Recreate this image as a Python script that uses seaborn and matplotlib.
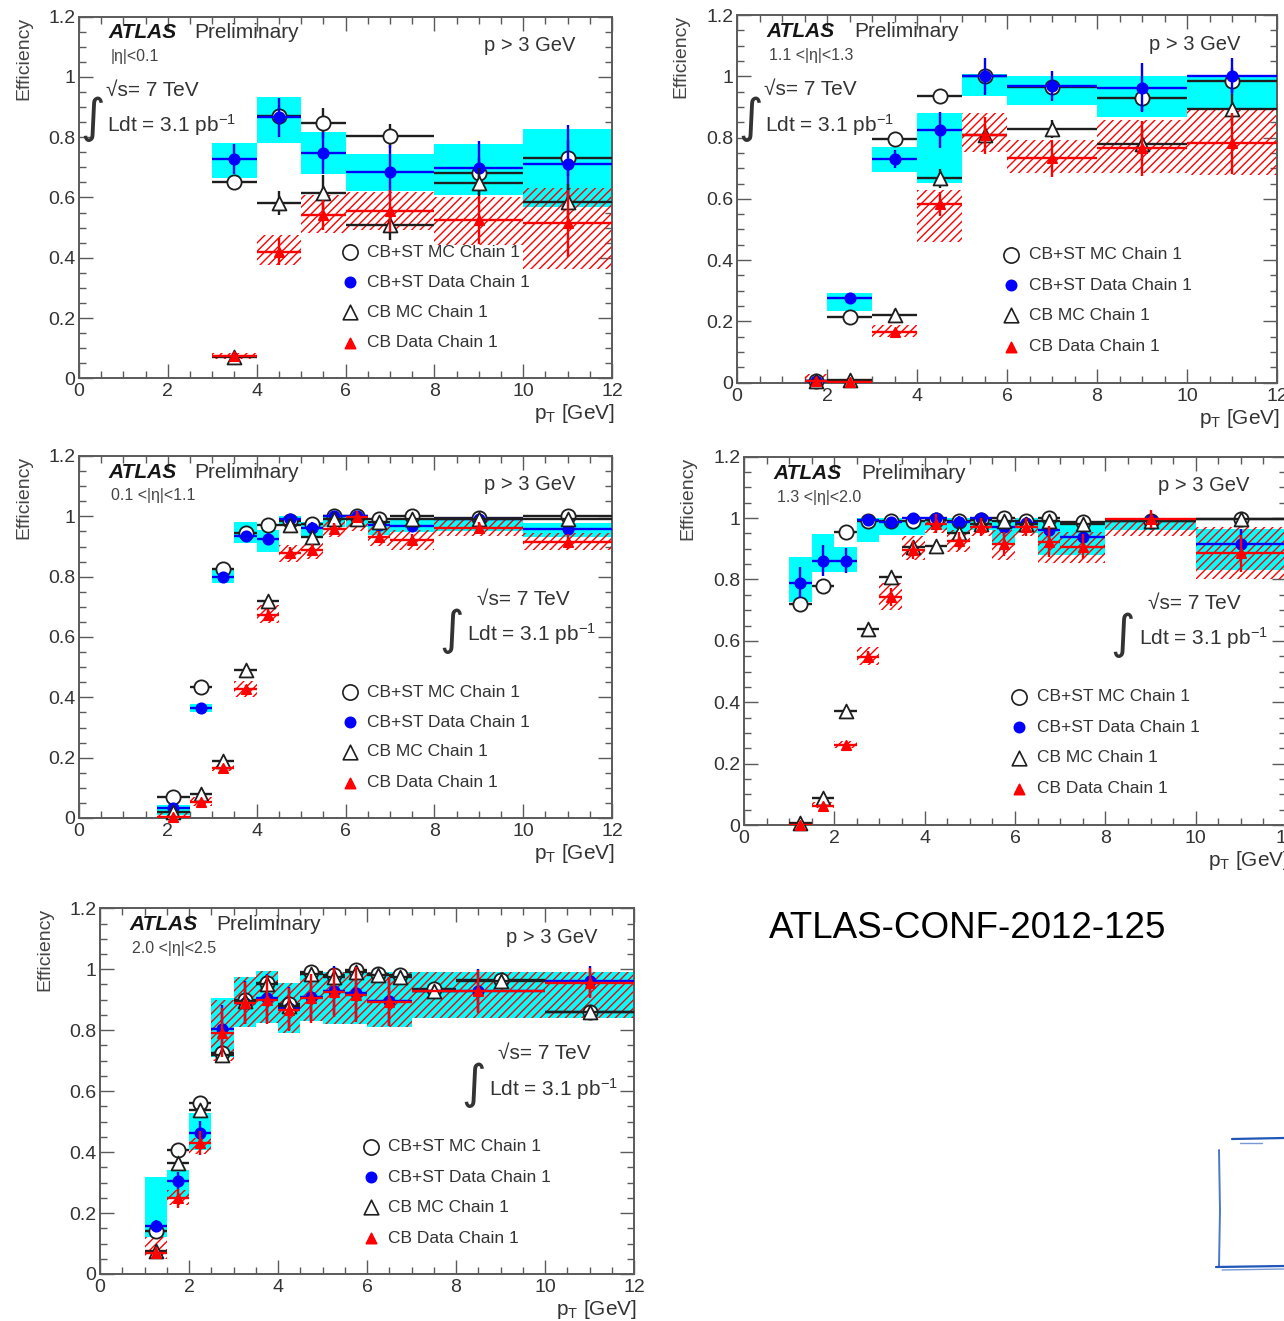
import numpy as np
import matplotlib
matplotlib.use("Agg")
import matplotlib.pyplot as plt
import seaborn as sns
from matplotlib.ticker import MultipleLocator, FuncFormatter
from matplotlib.lines import Line2D

# ---------------- data ----------------
# |eta| < 0.1
P1_EDGES = [3, 4, 5, 6, 8, 10, 12]
P1_MC_CBST = [0.653, 0.870, 0.846, 0.804, 0.682, 0.730]
P1_MC_CBST_ERR = [0.02, 0.03, 0.05, 0.04, 0.05, 0.06]
P1_DATA_CBST = [0.727, 0.866, 0.749, 0.685, 0.697, 0.710]
P1_DATA_CBST_ERR = [0.05, 0.065, 0.07, 0.09, 0.09, 0.13]
P1_SYS_CBST_LO = [0.664, 0.782, 0.678, 0.620, 0.608, 0.570]
P1_SYS_CBST_HI = [0.782, 0.935, 0.819, 0.744, 0.778, 0.826]
P1_MC_CB = [0.072, 0.583, 0.616, 0.509, 0.649, 0.586]
P1_MC_CB_ERR = [0.01, 0.04, 0.06, 0.05, 0.05, 0.06]
P1_DATA_CB = [0.074, 0.420, 0.542, 0.556, 0.525, 0.514]
P1_DATA_CB_ERR = [0.01, 0.045, 0.05, 0.07, 0.08, 0.11]
P1_SYS_CB_LO = [0.063, 0.376, 0.481, 0.492, 0.442, 0.362]
P1_SYS_CB_HI = [0.083, 0.476, 0.608, 0.619, 0.603, 0.630]

# 1.1 < |eta| < 1.3
P2_EDGES = [1.5, 2, 3, 4, 5, 6, 8, 10, 12]
P2_MC_CBST = [0.005, 0.215, 0.794, 0.936, 1.000, 0.965, 0.928, 0.986]
P2_MC_CBST_ERR = [0.005, 0.01, 0.02, 0.015, 0.02, 0.02, 0.04, 0.04]
P2_DATA_CBST = [0.005, 0.275, 0.730, 0.825, 1.000, 0.968, 0.962, 1.000]
P2_DATA_CBST_ERR = [0.01, 0.015, 0.03, 0.06, 0.06, 0.05, 0.08, 0.06]
P2_SYS_CBST_LO = [0.000, 0.235, 0.689, 0.653, 0.936, 0.906, 0.868, 0.895]
P2_SYS_CBST_HI = [0.010, 0.293, 0.768, 0.881, 1.007, 1.000, 1.000, 1.004]
P2_MC_CB = [0.005, 0.008, 0.220, 0.667, 0.810, 0.827, 0.779, 0.893]
P2_MC_CB_ERR = [0.005, 0.01, 0.02, 0.03, 0.03, 0.03, 0.05, 0.05]
P2_DATA_CB = [0.005, 0.003, 0.166, 0.583, 0.808, 0.732, 0.765, 0.781]
P2_DATA_CB_ERR = [0.01, 0.005, 0.01, 0.04, 0.06, 0.06, 0.09, 0.10]
P2_SYS_CB_LO = [0.000, 0.000, 0.150, 0.460, 0.754, 0.683, 0.683, 0.678]
P2_SYS_CB_HI = [0.030, 0.010, 0.188, 0.629, 0.881, 0.792, 0.857, 0.895]

# 0.1 < |eta| < 1.1
P3_EDGES = [1.75, 2.5, 3, 3.5, 4, 4.5, 5, 5.5, 6, 6.5, 7, 8, 10, 12]
P3_MC_CBST = [0.070, 0.433, 0.824, 0.945, 0.971, 0.985, 0.975, 1.000, 1.000, 0.990, 1.000, 0.995, 1.000]
P3_MC_CBST_ERR = [0.01, 0.01, 0.01, 0.01, 0.01, 0.01, 0.01, 0.01, 0.01, 0.01, 0.01, 0.01, 0.01]
P3_DATA_CBST = [0.033, 0.365, 0.800, 0.935, 0.924, 0.990, 0.960, 1.000, 1.000, 0.971, 0.968, 0.990, 0.957]
P3_DATA_CBST_ERR = [0.01, 0.01, 0.015, 0.015, 0.02, 0.015, 0.02, 0.01, 0.01, 0.015, 0.015, 0.01, 0.02]
P3_SYS_CBST_LO = [0.009, 0.352, 0.778, 0.910, 0.883, 0.968, 0.933, 0.963, 0.963, 0.938, 0.949, 0.950, 0.932]
P3_SYS_CBST_HI = [0.042, 0.379, 0.822, 0.982, 0.955, 1.000, 0.982, 0.999, 1.000, 0.982, 0.988, 0.990, 0.977]
P3_MC_CB = [0.020, 0.080, 0.190, 0.490, 0.720, 0.970, 0.930, 0.990, 0.990, 0.980, 0.990, 0.990, 0.990]
P3_MC_CB_ERR = [0.01, 0.01, 0.01, 0.015, 0.015, 0.01, 0.01, 0.01, 0.01, 0.01, 0.01, 0.01, 0.01]
P3_DATA_CB = [0.003, 0.053, 0.166, 0.426, 0.673, 0.877, 0.888, 0.957, 0.997, 0.933, 0.921, 0.960, 0.916]
P3_DATA_CB_ERR = [0.005, 0.01, 0.01, 0.015, 0.02, 0.02, 0.02, 0.02, 0.02, 0.02, 0.02, 0.02, 0.025]
P3_SYS_CB_LO = [0.000, 0.040, 0.155, 0.400, 0.645, 0.850, 0.860, 0.930, 0.950, 0.900, 0.890, 0.935, 0.890]
P3_SYS_CB_HI = [0.020, 0.070, 0.180, 0.455, 0.705, 0.905, 0.915, 0.985, 1.000, 0.970, 0.955, 0.990, 0.945]

# 1.3 < |eta| < 2.0
P4_EDGES = [1, 1.5, 2, 2.5, 3, 3.5, 4, 4.5, 5, 5.5, 6, 6.5, 7, 8, 10, 12]
P4_MC_CBST = [0.719, 0.780, 0.955, 0.990, 0.990, 0.990, 0.995, 0.990, 0.995, 1.000, 0.990, 1.000, 0.986, 0.990, 0.997]
P4_MC_CBST_ERR = [0.01, 0.01, 0.01, 0.01, 0.01, 0.01, 0.01, 0.01, 0.01, 0.01, 0.01, 0.01, 0.01, 0.01, 0.01]
P4_DATA_CBST = [0.789, 0.861, 0.861, 0.993, 0.988, 1.000, 0.999, 0.988, 0.999, 0.970, 0.983, 0.961, 0.939, 0.993, 0.915]
P4_DATA_CBST_ERR = [0.05, 0.05, 0.04, 0.02, 0.015, 0.015, 0.015, 0.02, 0.015, 0.03, 0.02, 0.03, 0.03, 0.015, 0.05]
P4_SYS_CBST_LO = [0.727, 0.825, 0.825, 0.923, 0.945, 0.945, 0.960, 0.950, 0.960, 0.920, 0.950, 0.880, 0.880, 0.960, 0.830]
P4_SYS_CBST_HI = [0.872, 0.948, 0.907, 1.000, 1.000, 0.990, 1.000, 1.000, 1.000, 0.990, 1.000, 0.990, 0.990, 0.995, 0.966]
P4_MC_CB = [0.005, 0.087, 0.372, 0.637, 0.807, 0.907, 0.910, 0.950, 0.980, 0.990, 0.980, 0.990, 0.980, 0.990, 0.997]
P4_MC_CB_ERR = [0.01, 0.01, 0.01, 0.01, 0.015, 0.015, 0.015, 0.01, 0.01, 0.01, 0.01, 0.01, 0.01, 0.01, 0.01]
P4_DATA_CB = [0.000, 0.063, 0.261, 0.548, 0.742, 0.896, 0.982, 0.926, 0.970, 0.915, 0.970, 0.923, 0.907, 0.997, 0.885]
P4_DATA_CB_ERR = [0.005, 0.01, 0.01, 0.02, 0.03, 0.03, 0.03, 0.03, 0.03, 0.04, 0.03, 0.05, 0.04, 0.03, 0.06]
P4_SYS_CB_LO = [0.000, 0.055, 0.250, 0.520, 0.700, 0.865, 0.950, 0.890, 0.940, 0.865, 0.940, 0.855, 0.855, 0.940, 0.800]
P4_SYS_CB_HI = [0.010, 0.075, 0.275, 0.580, 0.790, 0.940, 1.000, 0.960, 1.000, 0.960, 1.000, 0.955, 0.955, 1.000, 0.970]

# 2.0 < |eta| < 2.5 (data and simulation use different binning above 6 GeV)
P5_EDGES_DATA = [1, 1.5, 2, 2.5, 3, 3.5, 4, 4.5, 5, 5.5, 6, 7, 10, 12]
P5_EDGES_MC = [1, 1.5, 2, 2.5, 3, 3.5, 4, 4.5, 5, 5.5, 6, 6.5, 7, 8, 10, 12]
P5_MC_CBST = [0.140, 0.407, 0.560, 0.725, 0.900, 0.955, 0.885, 0.990, 0.980, 0.998, 0.985, 0.980, 0.935, 0.965, 0.860]
P5_MC_CBST_ERR = [0.01, 0.015, 0.015, 0.015, 0.015, 0.015, 0.015, 0.01, 0.01, 0.01, 0.01, 0.01, 0.015, 0.015, 0.02]
P5_DATA_CBST = [0.158, 0.306, 0.462, 0.803, 0.890, 0.905, 0.872, 0.910, 0.930, 0.922, 0.895, 0.930, 0.960]
P5_DATA_CBST_ERR = [0.02, 0.03, 0.04, 0.08, 0.07, 0.08, 0.07, 0.08, 0.08, 0.09, 0.08, 0.07, 0.05]
P5_SYS_CBST_LO = [0.122, 0.254, 0.407, 0.713, 0.812, 0.822, 0.790, 0.830, 0.820, 0.820, 0.810, 0.840, 0.840]
P5_SYS_CBST_HI = [0.319, 0.341, 0.527, 0.905, 0.976, 0.993, 0.954, 0.990, 0.990, 0.990, 0.990, 0.990, 0.990]
P5_MC_CB = [0.075, 0.363, 0.538, 0.720, 0.895, 0.950, 0.880, 0.985, 0.975, 0.990, 0.980, 0.975, 0.930, 0.960, 0.860]
P5_MC_CB_ERR = [0.01, 0.015, 0.015, 0.015, 0.015, 0.015, 0.015, 0.01, 0.01, 0.01, 0.01, 0.01, 0.015, 0.015, 0.02]
P5_DATA_CB = [0.068, 0.248, 0.430, 0.792, 0.889, 0.900, 0.867, 0.905, 0.924, 0.916, 0.894, 0.927, 0.955]
P5_DATA_CB_ERR = [0.02, 0.03, 0.04, 0.08, 0.07, 0.08, 0.07, 0.08, 0.08, 0.09, 0.08, 0.07, 0.05]
P5_SYS_CB_LO = [0.050, 0.227, 0.395, 0.700, 0.812, 0.822, 0.790, 0.830, 0.820, 0.820, 0.810, 0.840, 0.840]
P5_SYS_CB_HI = [0.122, 0.276, 0.445, 0.900, 0.976, 0.993, 0.954, 0.990, 0.990, 0.990, 0.990, 0.990, 0.990]

ETA_LABELS = ["|η|<0.1", "1.1 <|η|<1.3", "0.1 <|η|<1.1", "1.3 <|η|<2.0", "2.0 <|η|<2.5"]
LEGEND_LABELS = ["CB+ST MC Chain 1", "CB+ST Data Chain 1", "CB MC Chain 1", "CB Data Chain 1"]
X_TITLE = "p$_{\\mathregular{T}}$ [GeV]"
Y_TITLE = "Efficiency"
NOTE = "ATLAS-CONF-2012-125"

# ---------------- style ----------------
sns.set_theme(style="ticks")
plt.rcParams["font.family"] = ["Liberation Sans", "DejaVu Sans"]
plt.rcParams["mathtext.fontset"] = "custom"
plt.rcParams["mathtext.rm"] = "Liberation Sans"
plt.rcParams["mathtext.it"] = "Liberation Sans:italic"
plt.rcParams["mathtext.bf"] = "Liberation Sans:bold"
plt.rcParams["hatch.linewidth"] = 1.0

CYAN = "#00ffff"
BLUE = "#0000ff"
RED = "#ff0000"
MCCOL = "#1e1e1e"
FRAME = "#5a5a5a"
TXT = "#333333"


def centers(edges):
    e = np.asarray(edges, float)
    return (e[:-1] + e[1:]) / 2, (e[1:] - e[:-1]) / 2


def sys_boxes(ax, edges, lo, hi, hatched):
    e = np.asarray(edges, float)
    lo = np.asarray(lo, float)
    hi = np.asarray(hi, float)
    if hatched:
        ax.bar(e[:-1], hi - lo, width=np.diff(e), bottom=lo, align="edge",
               facecolor="none", edgecolor=RED, hatch="////", linewidth=0, zorder=2)
    else:
        ax.bar(e[:-1], hi - lo, width=np.diff(e), bottom=lo, align="edge",
               color=CYAN, linewidth=0, zorder=1)


def series(ax, edges, y, err, line_col, face, edge, marker, size, z):
    xc, hw = centers(edges)
    ax.errorbar(xc, y, xerr=hw, yerr=err, fmt="none", ecolor=line_col,
                elinewidth=1.7, capsize=0, zorder=z)
    sns.scatterplot(x=xc, y=np.asarray(y, float), ax=ax, marker=marker, s=size,
                    color=face, edgecolor=edge, linewidth=1.3, zorder=z + 0.5,
                    legend=False, clip_on=False)


def frame(ax):
    ax.set_xlim(0, 12)
    ax.set_ylim(0, 1.2)
    ax.set_xlabel("")
    ax.set_ylabel("")
    ax.xaxis.set_major_locator(MultipleLocator(2))
    ax.xaxis.set_minor_locator(MultipleLocator(0.5))
    ax.yaxis.set_major_locator(MultipleLocator(0.2))
    ax.yaxis.set_minor_locator(MultipleLocator(0.05))
    ax.yaxis.set_major_formatter(FuncFormatter(lambda v, p: "%g" % round(v, 3)))
    ax.xaxis.set_major_formatter(FuncFormatter(lambda v, p: "%g" % round(v, 3)))
    ax.tick_params(which="both", direction="in", top=True, right=True,
                   colors=FRAME, labelcolor=TXT, labelsize=14)
    ax.tick_params(which="major", length=10, width=1.0)
    ax.tick_params(which="minor", length=5, width=1.0)
    ax.tick_params(axis="x", pad=3.5)
    ax.tick_params(axis="y", pad=2.5)
    for sp in ax.spines.values():
        sp.set_color(FRAME)
        sp.set_linewidth(1.4)
    ax.text(-0.104, 1.0, Y_TITLE, rotation=90, ha="center", va="top",
            transform=ax.transAxes, fontsize=14, color="#444444")
    ax.text(1.006, -0.097, X_TITLE, ha="right", va="center",
            transform=ax.transAxes, fontsize=15, color=TXT)


def labels(ax, eta_text, lumi_right):
    tr = ax.transAxes
    ax.text(0.055, 0.955, "ATLAS", transform=tr, fontsize=15, fontweight="bold",
            fontstyle="italic", color="#151515", va="center", ha="left")
    ax.text(0.217, 0.955, "Preliminary", transform=tr, fontsize=15,
            color=TXT, va="center", ha="left")
    ax.text(0.060, 0.890, eta_text, transform=tr, fontsize=11.5,
            color="#444444", va="center", ha="left")
    ax.text(0.932, 0.921, "p > 3 GeV", transform=tr, fontsize=14.5,
            color=TXT, va="center", ha="right")
    if lumi_right:
        xs, ys, xi, yi, xl, yl = 0.746, 0.603, 0.699, 0.515, 0.728, 0.507
    else:
        xs, ys, xi, yi, xl, yl = 0.050, 0.797, 0.025, 0.716, 0.052, 0.701
    ax.text(xs, ys, "√s= 7 TeV", transform=tr, fontsize=15, color=TXT,
            va="center", ha="left")
    ax.text(xi, yi, "∫", transform=tr, fontsize=34, color=TXT,
            va="center", ha="center", family=["DejaVu Sans"])
    ax.text(xl, yl, "Ldt = 3.1 pb$^{\\mathregular{-1}}$", transform=tr, fontsize=15,
            color=TXT, va="center", ha="left")
    # legend
    rows = [0.348, 0.265, 0.183, 0.098]
    styles = [("o", "white", MCCOL, 120), ("o", BLUE, BLUE, 55),
              ("^", "white", MCCOL, 110), ("^", RED, RED, 55)]
    for (mk, fc, ec, s), yy, lab in zip(styles, rows, LEGEND_LABELS):
        ax.scatter([0.508], [yy], marker=mk, s=s, facecolor=fc, edgecolor=ec,
                   linewidth=1.2, transform=tr, zorder=8, clip_on=False)
        ax.text(0.540, yy, lab, transform=tr, fontsize=12.5, color=TXT,
                va="center", ha="left")


def panel(ax, edges_data, edges_mc, mc_cbst, mc_cbst_err, d_cbst, d_cbst_err,
          s_cbst_lo, s_cbst_hi, mc_cb, mc_cb_err, d_cb, d_cb_err, s_cb_lo, s_cb_hi,
          eta_text, lumi_right):
    sys_boxes(ax, edges_data, s_cbst_lo, s_cbst_hi, hatched=False)
    sys_boxes(ax, edges_data, s_cb_lo, s_cb_hi, hatched=True)
    series(ax, edges_mc, mc_cbst, mc_cbst_err, MCCOL, "white", MCCOL, "o", 105, 3)
    series(ax, edges_data, d_cbst, d_cbst_err, BLUE, BLUE, BLUE, "o", 55, 4)
    series(ax, edges_mc, mc_cb, mc_cb_err, MCCOL, "white", MCCOL, "^", 100, 5)
    series(ax, edges_data, d_cb, d_cb_err, RED, RED, RED, "^", 45, 6)
    frame(ax)
    labels(ax, eta_text, lumi_right)


W, H = 1284, 1321
fig = plt.figure(figsize=(W / 100, H / 100), dpi=100, facecolor="white")


def add_axes(x0, x12, ytop, ybot):
    return fig.add_axes([x0 / W, 1 - ybot / H, (x12 - x0) / W, (ybot - ytop) / H])


ax1 = add_axes(79, 612, 16.7, 378.3)
ax2 = add_axes(737, 1277, 15.0, 382.7)
ax3 = add_axes(79, 612, 456.0, 818.0)
ax4 = add_axes(744, 1286, 456.7, 825.0)
ax5 = add_axes(100, 634, 908.3, 1274.0)

panel(ax1, P1_EDGES, P1_EDGES, P1_MC_CBST, P1_MC_CBST_ERR, P1_DATA_CBST, P1_DATA_CBST_ERR,
      P1_SYS_CBST_LO, P1_SYS_CBST_HI, P1_MC_CB, P1_MC_CB_ERR, P1_DATA_CB, P1_DATA_CB_ERR,
      P1_SYS_CB_LO, P1_SYS_CB_HI, ETA_LABELS[0], False)
panel(ax2, P2_EDGES, P2_EDGES, P2_MC_CBST, P2_MC_CBST_ERR, P2_DATA_CBST, P2_DATA_CBST_ERR,
      P2_SYS_CBST_LO, P2_SYS_CBST_HI, P2_MC_CB, P2_MC_CB_ERR, P2_DATA_CB, P2_DATA_CB_ERR,
      P2_SYS_CB_LO, P2_SYS_CB_HI, ETA_LABELS[1], False)
panel(ax3, P3_EDGES, P3_EDGES, P3_MC_CBST, P3_MC_CBST_ERR, P3_DATA_CBST, P3_DATA_CBST_ERR,
      P3_SYS_CBST_LO, P3_SYS_CBST_HI, P3_MC_CB, P3_MC_CB_ERR, P3_DATA_CB, P3_DATA_CB_ERR,
      P3_SYS_CB_LO, P3_SYS_CB_HI, ETA_LABELS[2], True)
panel(ax4, P4_EDGES, P4_EDGES, P4_MC_CBST, P4_MC_CBST_ERR, P4_DATA_CBST, P4_DATA_CBST_ERR,
      P4_SYS_CBST_LO, P4_SYS_CBST_HI, P4_MC_CB, P4_MC_CB_ERR, P4_DATA_CB, P4_DATA_CB_ERR,
      P4_SYS_CB_LO, P4_SYS_CB_HI, ETA_LABELS[3], True)
panel(ax5, P5_EDGES_DATA, P5_EDGES_MC, P5_MC_CBST, P5_MC_CBST_ERR, P5_DATA_CBST, P5_DATA_CBST_ERR,
      P5_SYS_CBST_LO, P5_SYS_CBST_HI, P5_MC_CB, P5_MC_CB_ERR, P5_DATA_CB, P5_DATA_CB_ERR,
      P5_SYS_CB_LO, P5_SYS_CB_HI, ETA_LABELS[4], True)

fig.text(968 / W, 1 - 928 / H, NOTE, ha="center", va="center", fontsize=26.5, color="black")

# hand-drawn box in the lower right corner
def px_line(xs, ys, lw=1.6, alpha=1.0):
    fig.add_artist(Line2D([x / W for x in xs], [1 - y / H for y in ys],
                          color="#1f56b8", lw=lw, alpha=alpha, solid_capstyle="round"))

px_line([1232, 1284], [1139, 1138])
px_line([1240, 1262], [1143, 1143], lw=1.0, alpha=0.6)
px_line([1219, 1220, 1219], [1150, 1210, 1266], lw=1.4, alpha=0.8)
px_line([1216, 1284], [1267, 1266])
px_line([1222, 1284], [1270, 1269], lw=1.0, alpha=0.6)

fig.savefig("out.png", dpi=100, facecolor="white")
